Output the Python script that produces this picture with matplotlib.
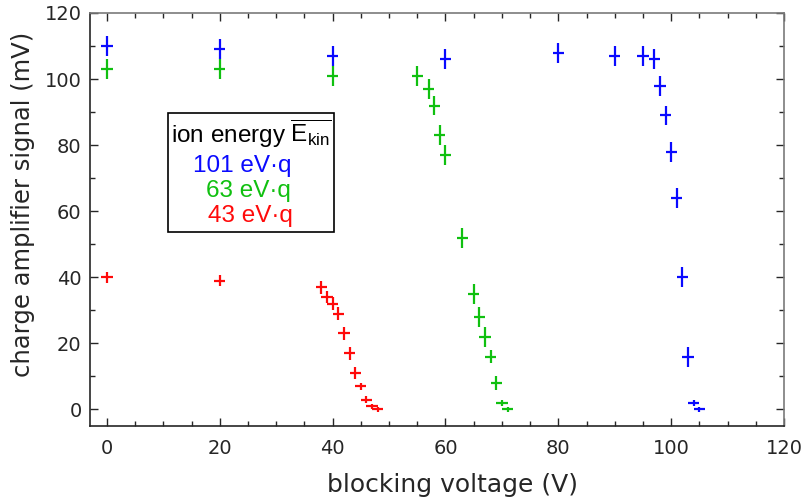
import matplotlib
matplotlib.use("Agg")
import matplotlib.pyplot as plt
from matplotlib.patches import Rectangle
from matplotlib.ticker import MultipleLocator

# blocking voltage (V) and charge amplifier signal (mV) per ion energy
v_101 = [0, 20, 40, 60, 80, 90, 95, 97, 98, 99, 100, 101, 102, 103, 104, 105]
s_101 = [110, 109, 107, 106, 108, 107, 107, 106, 98, 89, 78, 64, 40, 16, 2, 0]
e_101 = [3, 3, 3, 3, 3, 3, 3, 3, 3, 3, 3, 3, 3, 3, 0.8, 0.8]

v_63 = [0, 20, 40, 55, 57, 58, 59, 60, 63, 65, 66, 67, 68, 69, 70, 71]
s_63 = [103, 103, 101, 101, 97, 92, 83, 77, 52, 35, 28, 22, 16, 8, 2, 0]
e_63 = [3, 3, 3, 3, 3, 3, 3, 3, 3, 3, 3, 3, 2, 2, 0.8, 0.9]

v_43 = [0, 20, 38, 39, 40, 41, 42, 43, 44, 45, 46, 47, 48]
s_43 = [40, 39, 37, 34, 32, 29, 23, 17, 11, 7, 3, 1, 0]
e_43 = [1.6, 1.6, 1.9, 1.9, 1.9, 1.9, 1.9, 1.9, 1.9, 1.0, 1.0, 0.8, 0.8]

x_err = 1.0

series = [
    (v_101, s_101, e_101, "#0a0aff", "101 eV\u00b7q"),
    (v_63, s_63, e_63, "#10c010", "63 eV\u00b7q"),
    (v_43, s_43, e_43, "#ff0a0a", "43 eV\u00b7q"),
]

plt.rcParams["font.family"] = ["DejaVu Sans"]
plt.rcParams["mathtext.fontset"] = "custom"
plt.rcParams["mathtext.rm"] = "Liberation Sans"
plt.rcParams["mathtext.it"] = "Liberation Sans"

fig = plt.figure(figsize=(8.08, 4.99), dpi=100)
ax = fig.add_axes([90 / 808, 73 / 499, 694 / 808, 413 / 499])

for v, s, e, c, _ in series:
    ax.errorbar(v, s, xerr=x_err, yerr=e, fmt="none", ecolor=c,
                elinewidth=1.6, capsize=0)

ax.set_xlim(-3, 120)
ax.set_ylim(-5, 120)
ax.xaxis.set_major_locator(MultipleLocator(20))
ax.xaxis.set_minor_locator(MultipleLocator(5))
ax.yaxis.set_major_locator(MultipleLocator(20))
ax.yaxis.set_minor_locator(MultipleLocator(10))

dark = "#262626"
light = "#7a7a7a"
ax.tick_params(which="both", direction="in", top=True, right=True,
               colors=dark, labelcolor=dark, labelsize=14)
ax.tick_params(which="major", length=6, width=1)
ax.tick_params(which="minor", length=3.5, width=1)
ax.tick_params(axis="x", which="major", pad=9)
ax.tick_params(axis="y", which="major", pad=6)
for side in ("left", "bottom"):
    ax.spines[side].set_color(dark)
    ax.spines[side].set_linewidth(1.2)
for side in ("top", "right"):
    ax.spines[side].set_color(light)
    ax.spines[side].set_linewidth(1.2)

ax.set_xlabel("blocking voltage (V)", fontsize=18, color=dark, labelpad=11)
ax.set_ylabel("charge amplifier signal (mV)", fontsize=17.5, color=dark,
              labelpad=7)
ax.xaxis.label.set_x(0.522)
ax.yaxis.label.set_y(0.537)

# annotation box listing the ion energies
ax.add_patch(Rectangle((0.1124, 0.4697), 0.3516 - 0.1124, 0.7579 - 0.4697,
                       transform=ax.transAxes, fill=True, facecolor="white",
                       edgecolor="black", linewidth=1.2, zorder=5))
ax.text(0.117, 0.6845, r"ion energy $\overline{\mathrm{E}_{\mathrm{kin}}}$",
        transform=ax.transAxes, fontsize=17.5, family="Liberation Sans",
        color="black", ha="left", va="baseline", zorder=6)
label_pos = [(0.2906, 0.6157), (0.2896, 0.5537), (0.2925, 0.4947)]
for (x, y), (_, _, _, c, lab) in zip(label_pos, series):
    ax.text(x, y, lab, transform=ax.transAxes, fontsize=17.5,
            family="Liberation Sans", color=c, ha="right", va="baseline",
            zorder=6)

fig.savefig("out.png", dpi=100)
